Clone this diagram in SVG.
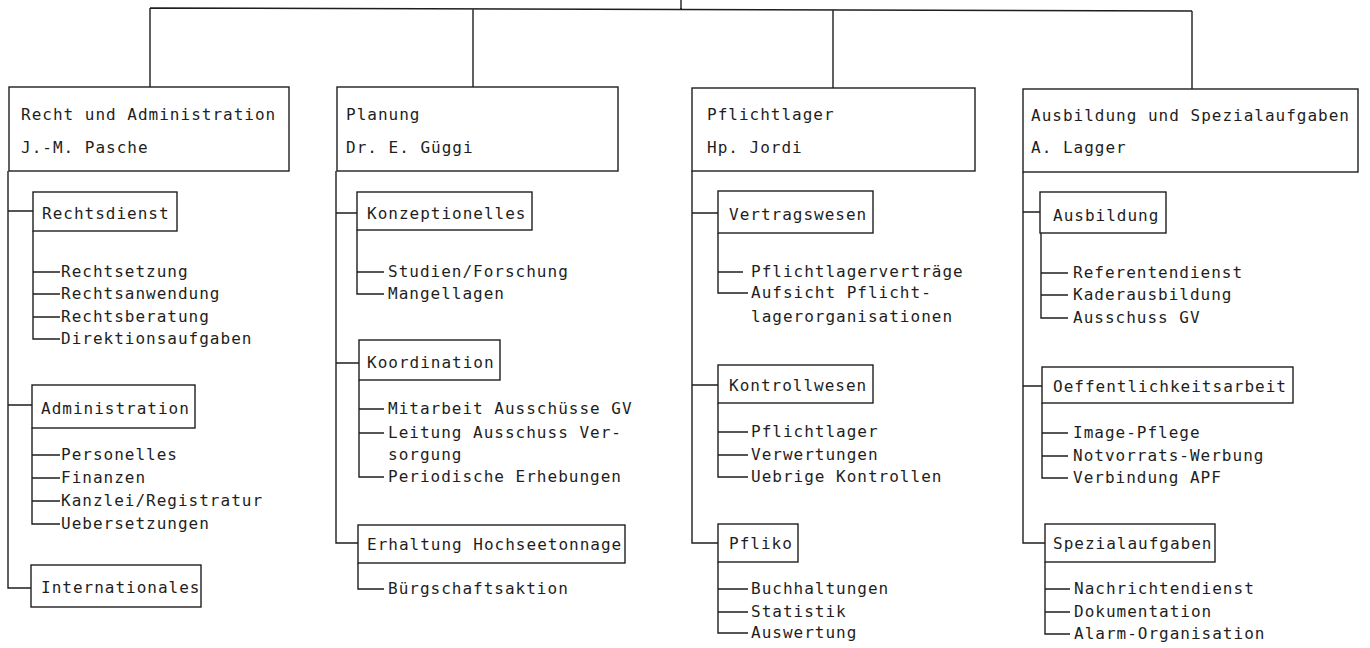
<svg xmlns="http://www.w3.org/2000/svg" width="1370" height="648" viewBox="0 0 1370 648">
<style>
.bx{fill:none;stroke:#1e1e1e;stroke-width:1.4}
.ln{fill:none;stroke:#1e1e1e;stroke-width:1.4}
text{font-family:"DejaVu Sans Mono","Liberation Mono",monospace;font-size:16px;letter-spacing:1px;fill:#1e1e1e}
</style>
<rect width="1370" height="648" fill="#fff"/>
<g id="connectors">
<path class="ln" d="M681,0V9M150,8L1192,11M150,8V87M473,9V87M833,10V88M1192,11V89"/>
<path class="ln" d="M8,171V588H31M8,211H33M8,405H32M33,231V339H60M33,272H60M33,294H60M33,317H60M32,428V524H60M32,455H60M32,478H60M32,501H60"/>
<path class="ln" d="M336,171V543H358M336,213H357M336,363H359M357,230V294H384M357,272H384M359,380V477H384M359,409H384M359,433H384M358,563V589H384"/>
<path class="ln" d="M692,171V543H718M692,213H718M692,385H718M718,233V293H748M718,272H743M718,403V477H748M718,432H748M718,455H748M718,562V633H748M718,589H748M718,612H748"/>
<path class="ln" d="M1023,172V543H1045M1023,212H1040M1023,386H1042M1041,233V318H1068M1041,273H1068M1041,295H1068M1042,403V478H1068M1042,433H1068M1042,456H1068M1045,562V634H1070M1045,589H1070M1045,612H1070"/>
</g>
<g id="recht-administration"><rect class="bx" x="9" y="87" width="280" height="84"/><text x="21" y="120">Recht und Administration</text><text x="21" y="153">J.-M. Pasche</text></g>
<g id="rechtsdienst"><rect class="bx" x="33" y="192" width="144" height="39"/><text x="42" y="219">Rechtsdienst</text></g>
<g id="rechtsetzung"><text x="61" y="277">Rechtsetzung</text></g>
<g id="rechtsanwendung"><text x="61" y="299">Rechtsanwendung</text></g>
<g id="rechtsberatung"><text x="61" y="322">Rechtsberatung</text></g>
<g id="direktionsaufgaben"><text x="61" y="344">Direktionsaufgaben</text></g>
<g id="administration"><rect class="bx" x="32" y="385" width="163" height="43"/><text x="41" y="414">Administration</text></g>
<g id="personelles"><text x="61" y="460">Personelles</text></g>
<g id="finanzen"><text x="61" y="483">Finanzen</text></g>
<g id="kanzlei"><text x="61" y="506">Kanzlei/Registratur</text></g>
<g id="uebersetzungen"><text x="61" y="529">Uebersetzungen</text></g>
<g id="internationales"><rect class="bx" x="31" y="565" width="170" height="42"/><text x="41" y="593">Internationales</text></g>

<g id="planung"><rect class="bx" x="337" y="87" width="281" height="84"/><text x="346" y="120">Planung</text><text x="346" y="153">Dr. E. Güggi</text></g>
<g id="konzeptionelles"><rect class="bx" x="357" y="192" width="175" height="38"/><text x="367" y="219">Konzeptionelles</text></g>
<g id="studien"><text x="388" y="277">Studien/Forschung</text></g>
<g id="mangellagen"><text x="388" y="299">Mangellagen</text></g>
<g id="koordination"><rect class="bx" x="359" y="340" width="141" height="40"/><text x="367" y="368">Koordination</text></g>
<g id="mitarbeit"><text x="388" y="414">Mitarbeit Ausschüsse GV</text></g>
<g id="leitung"><text x="388" y="438">Leitung Ausschuss Ver-</text><text x="388" y="460">sorgung</text></g>
<g id="periodische"><text x="388" y="482">Periodische Erhebungen</text></g>
<g id="erhaltung"><rect class="bx" x="358" y="525" width="267" height="38"/><text x="367" y="550">Erhaltung Hochseetonnage</text></g>
<g id="buergschaft"><text x="388" y="594">Bürgschaftsaktion</text></g>

<g id="pflichtlager"><rect class="bx" x="692" y="88" width="283" height="83"/><text x="707" y="120">Pflichtlager</text><text x="707" y="153">Hp. Jordi</text></g>
<g id="vertragswesen"><rect class="bx" x="718" y="191" width="155" height="42"/><text x="729" y="220">Vertragswesen</text></g>
<g id="pflichtlagervertraege"><text x="751" y="277">Pflichtlagerverträge</text></g>
<g id="aufsicht"><text x="751" y="298">Aufsicht Pflicht-</text><text x="751" y="322">lagerorganisationen</text></g>
<g id="kontrollwesen"><rect class="bx" x="718" y="365" width="155" height="38"/><text x="729" y="391">Kontrollwesen</text></g>
<g id="k-pflichtlager"><text x="751" y="437">Pflichtlager</text></g>
<g id="verwertungen"><text x="751" y="460">Verwertungen</text></g>
<g id="uebrige"><text x="751" y="482">Uebrige Kontrollen</text></g>
<g id="pfliko"><rect class="bx" x="718" y="524" width="80" height="38"/><text x="729" y="549">Pfliko</text></g>
<g id="buchhaltungen"><text x="751" y="594">Buchhaltungen</text></g>
<g id="statistik"><text x="751" y="617">Statistik</text></g>
<g id="auswertung"><text x="751" y="638">Auswertung</text></g>

<g id="ausbildung-spezial"><rect class="bx" x="1023" y="89" width="335" height="83"/><text x="1031" y="121">Ausbildung und Spezialaufgaben</text><text x="1031" y="153">A. Lagger</text></g>
<g id="ausbildung"><rect class="bx" x="1040" y="192" width="126" height="41"/><text x="1053" y="221">Ausbildung</text></g>
<g id="referentendienst"><text x="1073" y="278">Referentendienst</text></g>
<g id="kaderausbildung"><text x="1073" y="300">Kaderausbildung</text></g>
<g id="ausschuss-gv"><text x="1073" y="323">Ausschuss GV</text></g>
<g id="oeffentlichkeit"><rect class="bx" x="1042" y="367" width="251" height="36"/><text x="1053" y="392">Oeffentlichkeitsarbeit</text></g>
<g id="image-pflege"><text x="1073" y="438">Image-Pflege</text></g>
<g id="notvorrat"><text x="1073" y="461">Notvorrats-Werbung</text></g>
<g id="verbindung"><text x="1073" y="483">Verbindung APF</text></g>
<g id="spezialaufgaben"><rect class="bx" x="1045" y="524" width="170" height="38"/><text x="1053" y="549">Spezialaufgaben</text></g>
<g id="nachrichtendienst"><text x="1074" y="594">Nachrichtendienst</text></g>
<g id="dokumentation"><text x="1074" y="617">Dokumentation</text></g>
<g id="alarm"><text x="1074" y="639">Alarm-Organisation</text></g>
</svg>
